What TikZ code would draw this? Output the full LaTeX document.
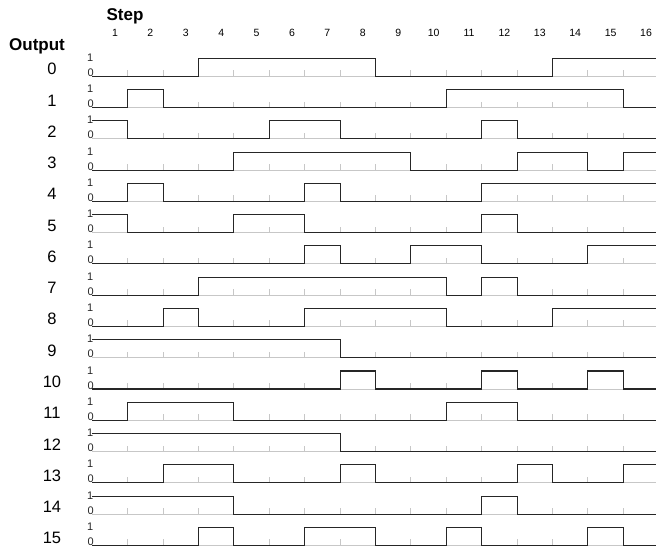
\documentclass[tikz,border=0pt]{standalone}
\usepackage{fontspec}
\setmainfont{Liberation Sans}
\usepackage{tikz}
\usetikzlibrary{positioning}

\begin{document}
\begin{tikzpicture}[
    x=1pt, y=-1pt,
    % Styles for the timing chart
    wave/.style={draw=black!85, line width=1.1pt, line join=miter, line cap=rect},
    baseline/.style={draw=black!22, line width=1pt},
    header/.style={font=\bfseries\fontsize{17}{17}\selectfont, inner sep=0pt, anchor=base},
    rowlabel/.style={font=\fontsize{16.5}{16.5}\selectfont, inner sep=0pt, anchor=base},
    steplabel/.style={font=\fontsize{10.5}{10.5}\selectfont, inner sep=0pt, anchor=base},
    bitlabel/.style={font=\fontsize{11}{11}\selectfont, inner sep=0pt, anchor=base west, text=black!85}
]
    \useasboundingbox (0,0) rectangle (656,550);

    % Geometry of the chart
    \def\xo{92.3}   % left end of step 1
    \def\dx{35.4}   % width of one step
    \def\yo{76.3}   % low level of output 0
    \def\dy{31.27}  % distance between outputs
    \def\hi{18}     % height of a pulse

    % 1. The headers
    \node[header] (steptitle) at (125,20) {Step};
    \node[header] (outtitle) at (37,50) {Output};
    \foreach \i in {1,...,16} {
        \node[steplabel] (step\i) at (115+\i*\dx-\dx,36) {\i};
    }

    % 2. The gray baselines with their ticks and labels
    \foreach \r in {0,...,15} {
        \pgfmathsetmacro\yl{\yo+\r*\dy}
        \draw[baseline] (\xo,\yl) -- (\xo+16*\dx,\yl);
        \foreach \k in {1,...,15} {
            \draw[baseline] (\xo+\k*\dx,\yl) -- ++(0,-6);
        }
        \node[rowlabel] (out\r) at (52,\yl-1.5) {\r};
        \node[bitlabel] (one\r) at (87,\yl-15) {1};
        \node[bitlabel] (zero\r) at (87.3,\yl) {0};
    }

    % 3. The waveforms (one bit per step)
    \foreach \r/\bits in {
        0/{0,0,0,1,1,1,1,1,0,0,0,0,0,1,1,1},
        1/{0,1,0,0,0,0,0,0,0,0,1,1,1,1,1,0},
        2/{1,0,0,0,0,1,1,0,0,0,0,1,0,0,0,0},
        3/{0,0,0,0,1,1,1,1,1,0,0,0,1,1,0,1},
        4/{0,1,0,0,0,0,1,0,0,0,0,1,1,1,1,1},
        5/{1,0,0,0,1,1,0,0,0,0,0,1,0,0,0,0},
        6/{0,0,0,0,0,0,1,0,0,1,1,0,0,0,1,1},
        7/{0,0,0,1,1,1,1,1,1,1,0,1,0,0,0,0},
        8/{0,0,1,0,0,0,1,1,1,1,0,0,0,1,1,1},
        9/{1,1,1,1,1,1,1,0,0,0,0,0,0,0,0,0},
        10/{0,0,0,0,0,0,0,1,0,0,0,1,0,0,1,0},
        11/{0,1,1,1,0,0,0,0,0,0,1,1,0,0,0,0},
        12/{1,1,1,1,1,1,1,0,0,0,0,0,0,0,0,0},
        13/{0,0,1,1,0,0,0,1,0,0,0,0,1,0,0,1},
        14/{1,1,1,1,0,0,0,0,0,0,0,1,0,0,0,0},
        15/{0,0,0,1,0,0,1,1,0,0,1,0,0,0,1,0}} {
        \pgfmathsetmacro\yl{\yo+\r*\dy}
        \foreach \b [count=\i, remember=\b as \lastb (initially 0)] in \bits {
            \pgfmathsetmacro\yprev{ifthenelse(\i==1,\b,\lastb)}
            \draw[wave] (\xo+\i*\dx-\dx,\yl-\yprev*\hi) -- (\xo+\i*\dx-\dx,\yl-\b*\hi)
                -- (\xo+\i*\dx,\yl-\b*\hi);
        }
    }

\end{tikzpicture}
\end{document}
